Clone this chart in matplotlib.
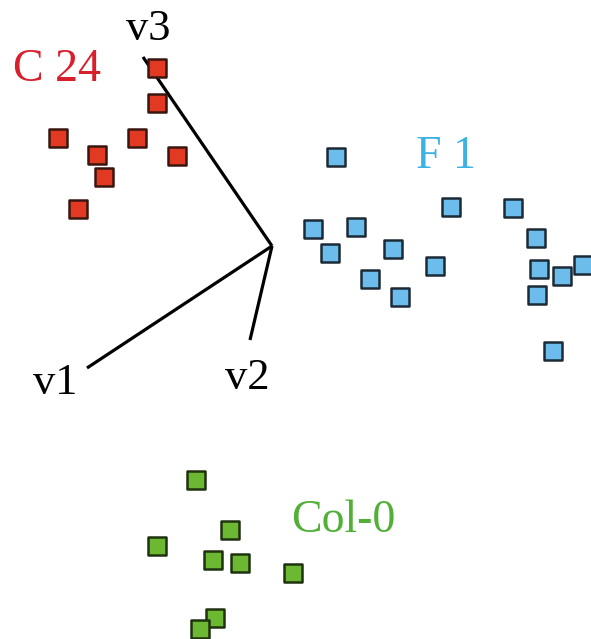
import matplotlib
matplotlib.use("Agg")
import matplotlib.pyplot as plt
from matplotlib.path import Path

# Score coordinates (y grows downward)
c24_x = [157, 157, 58, 137, 97, 177, 104, 78]
c24_y = [68, 103, 138, 138, 155, 156, 177, 209]

f1_x = [336, 451, 513, 313, 356, 536, 330, 393, 435, 539, 562, 583, 370, 400, 537, 553]
f1_y = [157, 207, 208, 229, 227, 238, 253, 249, 266, 269, 276, 265, 279, 297, 295, 351]

col_x = [196, 230, 157, 213, 240, 293, 215, 200]
col_y = [480, 530, 546, 560, 563, 573, 618, 629]

# Loading vectors (origin and tips)
origin = (272, 246)
vec_names = ["v1", "v2", "v3"]
vec_tip_x = [87, 250, 143]
vec_tip_y = [368, 340, 57]
vec_label_x = [55, 247, 148]
vec_label_y = [383, 378, 29]

group_names = ["C 24", "F 1", "Col-0"]
group_label_x = [57, 446, 343]
group_label_y = [70, 157, 521]
group_label_colors = ["#d8202c", "#3cb2e4", "#52b036"]
fill_colors = ["#e23a22", "#6cbcec", "#6cb832"]
edge_colors = ["#3a1610", "#1c2a36", "#1e3210"]

plt.rcParams['font.family'] = ['Liberation Serif', 'DejaVu Serif']

fig = plt.figure(figsize=(5.91, 6.39), dpi=100)
ax = fig.add_axes([0, 0, 1, 1])
ax.set_xlim(0, 591)
ax.set_ylim(639, 0)
ax.axis('off')

rect = Path([(-1.1, -1), (1.1, -1), (1.1, 1), (-1.1, 1), (-1.1, -1)],
            [Path.MOVETO, Path.LINETO, Path.LINETO, Path.LINETO, Path.CLOSEPOLY])

for tx, ty in zip(vec_tip_x, vec_tip_y):
    ax.plot([origin[0], tx], [origin[1], ty], color='black', lw=2.3,
            solid_capstyle='butt', zorder=1)

for name, lx, ly in zip(vec_names, vec_label_x, vec_label_y):
    ax.text(lx, ly, name, fontsize=32, color='black', ha='center', va='center')

groups = [(c24_x, c24_y), (f1_x, f1_y), (col_x, col_y)]
for (gx, gy), fc, ec in zip(groups, fill_colors, edge_colors):
    ax.plot(gx, gy, linestyle='none', marker=rect, markersize=13.5,
            markerfacecolor=fc, markeredgecolor=ec, markeredgewidth=1.8, zorder=2)

for name, lx, ly, c in zip(group_names, group_label_x, group_label_y, group_label_colors):
    ax.text(lx, ly, name, fontsize=33, color=c, ha='center', va='center')

fig.savefig("out.png", dpi=100)
